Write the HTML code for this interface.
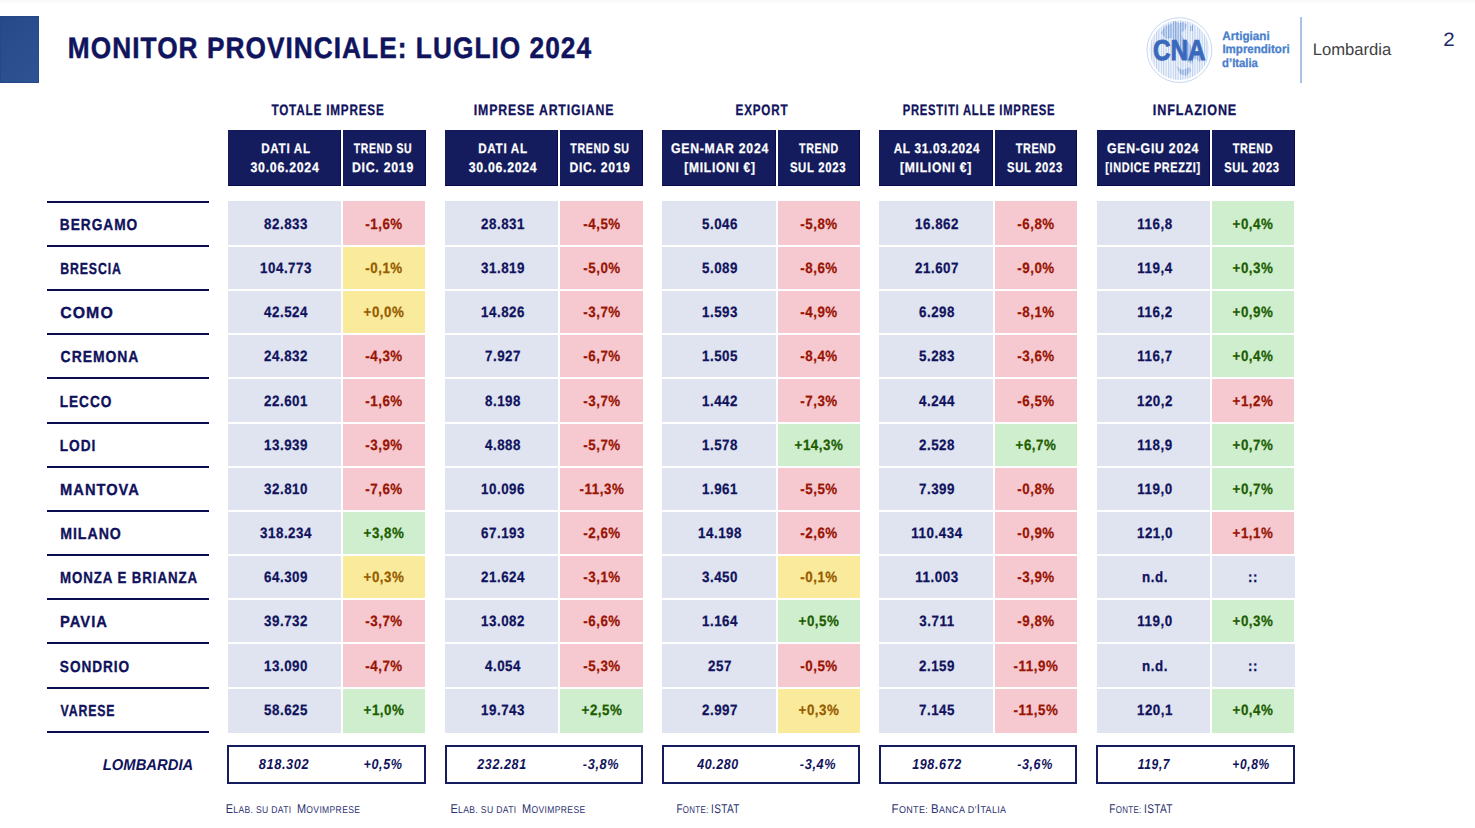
<!DOCTYPE html>
<html lang="it"><head><meta charset="utf-8"><title>Monitor provinciale: luglio 2024</title>
<style>
*{margin:0;padding:0;box-sizing:border-box}
html,body{width:1475px;height:828px;background:#fff;overflow:hidden}
body{position:relative;font-family:"Liberation Sans",sans-serif;color:#10125c;text-rendering:geometricPrecision}
.a{position:absolute}
.ft b{font-weight:normal;font-size:12.6px}
.x{position:absolute;white-space:nowrap;line-height:24px;transform-origin:50% 50%}
.hb{position:absolute;top:130px;height:56px;background:#141c5e;box-shadow:inset -1px -1px 0 #080a50}
.n{background:#dfe4f0}.r{background:#f6c8d0}.y{background:#faeb9c}.g{background:#cfeece}
.ln{position:absolute;left:47px;width:162px;height:2px;background:#0b0c50}
.tb{position:absolute;top:745px;height:38.5px;border:2px solid #141c5e}
.ti{font-size:29.6px;font-weight:bold;color:#10145e;letter-spacing:.04em;-webkit-text-stroke:.5px}
.gl{font-size:15.1px;font-weight:bold;letter-spacing:.07em;-webkit-text-stroke:.3px}
.hd{font-size:13.8px;font-weight:bold;color:#fff;letter-spacing:.06em;-webkit-text-stroke:.25px}
.pv{font-size:16.0px;font-weight:bold;letter-spacing:.07em;-webkit-text-stroke:.35px}
.nm{font-size:15.0px;font-weight:bold;letter-spacing:.04em;-webkit-text-stroke:.25px}
.tt{font-size:14.5px;font-weight:bold;font-style:italic;letter-spacing:.05em}
.lo{font-size:15.7px;font-weight:bold;font-style:italic}
.ft{font-size:9.9px;color:#2c3170;letter-spacing:.04em}
.lg{font-size:12.2px;font-weight:bold;color:#4a80cc;-webkit-text-stroke:.3px}
.lb{font-size:16.7px;color:#414141}
.pg{font-size:19.3px;color:#1f2a6b}
</style></head>
<body>
<div class="a" style="left:0;top:0;width:1475px;height:4px;background:linear-gradient(#f8f8f8,#fbfbfb 50%,#fff)"></div>
<div class="a" style="left:0;top:16px;width:39px;height:67px;background:linear-gradient(135deg,#27498a,#2e5392);box-shadow:inset 0 0 0 1px #244889"></div>
<svg class="a" style="left:1144px;top:14px" width="72" height="72" viewBox="0 0 72 72">
<defs><pattern id="st" width="2.4" height="72" patternUnits="userSpaceOnUse"><rect width="2.4" height="72" fill="#f3f7fd"/><rect width="1.05" height="72" fill="#bdd0ee"/></pattern>
<pattern id="sd" width="2.4" height="72" patternUnits="userSpaceOnUse"><rect width="2.4" height="72" fill="#dde7f7"/><rect width="1.2" height="72" fill="#7fa3dc"/></pattern>
<clipPath id="cc"><circle cx="35.4" cy="36.1" r="29.6"/></clipPath></defs>
<circle cx="35.4" cy="36.1" r="32.4" fill="#fff" stroke="#c6d7f1" stroke-width="1"/>
<circle cx="35.4" cy="36.1" r="29.8" fill="url(#st)"/>
<g clip-path="url(#cc)" fill="url(#sd)">
<path d="M17 19 L21 12 L27 10 L30 7 L35 9 L40 8 L43 11 L41 16 L37 19 L39 24 L44 28 L52 38 L58 44 L56 48 L50 44 L48 50 L44 48 L40 40 L32 30 L28 24 L22 25 Z"/>
<path d="M32 52 L38 56 L46 53 L47 57 L42 62 L36 60 Z"/>
<path d="M46 12 L49 11 L49 17 L46 17 Z"/>
</g>
<text x="35.2" y="45.8" text-anchor="middle" font-family="Liberation Sans, sans-serif" font-weight="bold" font-size="28.8" fill="#3a69bb" textLength="52.6" lengthAdjust="spacingAndGlyphs" stroke="#3a69bb" stroke-width=".9">CNA</text>
</svg>
<div class="a" style="left:1300px;top:17px;width:2px;height:66px;background:#a9c3e8"></div>
<div class="ln" style="top:201px"></div>
<div class="ln" style="top:245px"></div>
<div class="ln" style="top:289px"></div>
<div class="ln" style="top:333px"></div>
<div class="ln" style="top:377px"></div>
<div class="ln" style="top:422px"></div>
<div class="ln" style="top:466px"></div>
<div class="ln" style="top:510px"></div>
<div class="ln" style="top:554px"></div>
<div class="ln" style="top:598px"></div>
<div class="ln" style="top:642px"></div>
<div class="ln" style="top:687px"></div>
<div class="ln" style="top:731px"></div>
<div class="hb" style="left:228px;width:113px"></div><div class="hb" style="left:343px;width:83px"></div>
<div class="a n" style="left:228px;top:201px;width:113px;height:44px"></div><div class="a r" style="left:343px;top:201px;width:82px;height:44px"></div>
<div class="a n" style="left:228px;top:247px;width:113px;height:42px"></div><div class="a y" style="left:343px;top:247px;width:82px;height:42px"></div>
<div class="a n" style="left:228px;top:291px;width:113px;height:42px"></div><div class="a y" style="left:343px;top:291px;width:82px;height:42px"></div>
<div class="a n" style="left:228px;top:335px;width:113px;height:42px"></div><div class="a r" style="left:343px;top:335px;width:82px;height:42px"></div>
<div class="a n" style="left:228px;top:379px;width:113px;height:43px"></div><div class="a r" style="left:343px;top:379px;width:82px;height:43px"></div>
<div class="a n" style="left:228px;top:424px;width:113px;height:42px"></div><div class="a r" style="left:343px;top:424px;width:82px;height:42px"></div>
<div class="a n" style="left:228px;top:468px;width:113px;height:42px"></div><div class="a r" style="left:343px;top:468px;width:82px;height:42px"></div>
<div class="a n" style="left:228px;top:512px;width:113px;height:42px"></div><div class="a g" style="left:343px;top:512px;width:82px;height:42px"></div>
<div class="a n" style="left:228px;top:556px;width:113px;height:42px"></div><div class="a y" style="left:343px;top:556px;width:82px;height:42px"></div>
<div class="a n" style="left:228px;top:600px;width:113px;height:42px"></div><div class="a r" style="left:343px;top:600px;width:82px;height:42px"></div>
<div class="a n" style="left:228px;top:644px;width:113px;height:43px"></div><div class="a r" style="left:343px;top:644px;width:82px;height:43px"></div>
<div class="a n" style="left:228px;top:689px;width:113px;height:44px"></div><div class="a g" style="left:343px;top:689px;width:82px;height:44px"></div>
<div class="tb" style="left:227px;width:199px"></div>
<div class="hb" style="left:445px;width:113px"></div><div class="hb" style="left:560px;width:83px"></div>
<div class="a n" style="left:445px;top:201px;width:113px;height:44px"></div><div class="a r" style="left:560px;top:201px;width:83px;height:44px"></div>
<div class="a n" style="left:445px;top:247px;width:113px;height:42px"></div><div class="a r" style="left:560px;top:247px;width:83px;height:42px"></div>
<div class="a n" style="left:445px;top:291px;width:113px;height:42px"></div><div class="a r" style="left:560px;top:291px;width:83px;height:42px"></div>
<div class="a n" style="left:445px;top:335px;width:113px;height:42px"></div><div class="a r" style="left:560px;top:335px;width:83px;height:42px"></div>
<div class="a n" style="left:445px;top:379px;width:113px;height:43px"></div><div class="a r" style="left:560px;top:379px;width:83px;height:43px"></div>
<div class="a n" style="left:445px;top:424px;width:113px;height:42px"></div><div class="a r" style="left:560px;top:424px;width:83px;height:42px"></div>
<div class="a n" style="left:445px;top:468px;width:113px;height:42px"></div><div class="a r" style="left:560px;top:468px;width:83px;height:42px"></div>
<div class="a n" style="left:445px;top:512px;width:113px;height:42px"></div><div class="a r" style="left:560px;top:512px;width:83px;height:42px"></div>
<div class="a n" style="left:445px;top:556px;width:113px;height:42px"></div><div class="a r" style="left:560px;top:556px;width:83px;height:42px"></div>
<div class="a n" style="left:445px;top:600px;width:113px;height:42px"></div><div class="a r" style="left:560px;top:600px;width:83px;height:42px"></div>
<div class="a n" style="left:445px;top:644px;width:113px;height:43px"></div><div class="a r" style="left:560px;top:644px;width:83px;height:43px"></div>
<div class="a n" style="left:445px;top:689px;width:113px;height:44px"></div><div class="a g" style="left:560px;top:689px;width:83px;height:44px"></div>
<div class="tb" style="left:445px;width:198px"></div>
<div class="hb" style="left:662px;width:114px"></div><div class="hb" style="left:778px;width:82px"></div>
<div class="a n" style="left:662px;top:201px;width:114px;height:44px"></div><div class="a r" style="left:778px;top:201px;width:82px;height:44px"></div>
<div class="a n" style="left:662px;top:247px;width:114px;height:42px"></div><div class="a r" style="left:778px;top:247px;width:82px;height:42px"></div>
<div class="a n" style="left:662px;top:291px;width:114px;height:42px"></div><div class="a r" style="left:778px;top:291px;width:82px;height:42px"></div>
<div class="a n" style="left:662px;top:335px;width:114px;height:42px"></div><div class="a r" style="left:778px;top:335px;width:82px;height:42px"></div>
<div class="a n" style="left:662px;top:379px;width:114px;height:43px"></div><div class="a r" style="left:778px;top:379px;width:82px;height:43px"></div>
<div class="a n" style="left:662px;top:424px;width:114px;height:42px"></div><div class="a g" style="left:778px;top:424px;width:82px;height:42px"></div>
<div class="a n" style="left:662px;top:468px;width:114px;height:42px"></div><div class="a r" style="left:778px;top:468px;width:82px;height:42px"></div>
<div class="a n" style="left:662px;top:512px;width:114px;height:42px"></div><div class="a r" style="left:778px;top:512px;width:82px;height:42px"></div>
<div class="a n" style="left:662px;top:556px;width:114px;height:42px"></div><div class="a y" style="left:778px;top:556px;width:82px;height:42px"></div>
<div class="a n" style="left:662px;top:600px;width:114px;height:42px"></div><div class="a g" style="left:778px;top:600px;width:82px;height:42px"></div>
<div class="a n" style="left:662px;top:644px;width:114px;height:43px"></div><div class="a r" style="left:778px;top:644px;width:82px;height:43px"></div>
<div class="a n" style="left:662px;top:689px;width:114px;height:44px"></div><div class="a y" style="left:778px;top:689px;width:82px;height:44px"></div>
<div class="tb" style="left:662px;width:198px"></div>
<div class="hb" style="left:879px;width:114px"></div><div class="hb" style="left:995px;width:82px"></div>
<div class="a n" style="left:879px;top:201px;width:114px;height:44px"></div><div class="a r" style="left:995px;top:201px;width:82px;height:44px"></div>
<div class="a n" style="left:879px;top:247px;width:114px;height:42px"></div><div class="a r" style="left:995px;top:247px;width:82px;height:42px"></div>
<div class="a n" style="left:879px;top:291px;width:114px;height:42px"></div><div class="a r" style="left:995px;top:291px;width:82px;height:42px"></div>
<div class="a n" style="left:879px;top:335px;width:114px;height:42px"></div><div class="a r" style="left:995px;top:335px;width:82px;height:42px"></div>
<div class="a n" style="left:879px;top:379px;width:114px;height:43px"></div><div class="a r" style="left:995px;top:379px;width:82px;height:43px"></div>
<div class="a n" style="left:879px;top:424px;width:114px;height:42px"></div><div class="a g" style="left:995px;top:424px;width:82px;height:42px"></div>
<div class="a n" style="left:879px;top:468px;width:114px;height:42px"></div><div class="a r" style="left:995px;top:468px;width:82px;height:42px"></div>
<div class="a n" style="left:879px;top:512px;width:114px;height:42px"></div><div class="a r" style="left:995px;top:512px;width:82px;height:42px"></div>
<div class="a n" style="left:879px;top:556px;width:114px;height:42px"></div><div class="a r" style="left:995px;top:556px;width:82px;height:42px"></div>
<div class="a n" style="left:879px;top:600px;width:114px;height:42px"></div><div class="a r" style="left:995px;top:600px;width:82px;height:42px"></div>
<div class="a n" style="left:879px;top:644px;width:114px;height:43px"></div><div class="a r" style="left:995px;top:644px;width:82px;height:43px"></div>
<div class="a n" style="left:879px;top:689px;width:114px;height:44px"></div><div class="a r" style="left:995px;top:689px;width:82px;height:44px"></div>
<div class="tb" style="left:879px;width:198px"></div>
<div class="hb" style="left:1097px;width:113px"></div><div class="hb" style="left:1212px;width:83px"></div>
<div class="a n" style="left:1097px;top:201px;width:113px;height:44px"></div><div class="a g" style="left:1212px;top:201px;width:82px;height:44px"></div>
<div class="a n" style="left:1097px;top:247px;width:113px;height:42px"></div><div class="a g" style="left:1212px;top:247px;width:82px;height:42px"></div>
<div class="a n" style="left:1097px;top:291px;width:113px;height:42px"></div><div class="a g" style="left:1212px;top:291px;width:82px;height:42px"></div>
<div class="a n" style="left:1097px;top:335px;width:113px;height:42px"></div><div class="a g" style="left:1212px;top:335px;width:82px;height:42px"></div>
<div class="a n" style="left:1097px;top:379px;width:113px;height:43px"></div><div class="a r" style="left:1212px;top:379px;width:82px;height:43px"></div>
<div class="a n" style="left:1097px;top:424px;width:113px;height:42px"></div><div class="a g" style="left:1212px;top:424px;width:82px;height:42px"></div>
<div class="a n" style="left:1097px;top:468px;width:113px;height:42px"></div><div class="a g" style="left:1212px;top:468px;width:82px;height:42px"></div>
<div class="a n" style="left:1097px;top:512px;width:113px;height:42px"></div><div class="a r" style="left:1212px;top:512px;width:82px;height:42px"></div>
<div class="a n" style="left:1097px;top:556px;width:113px;height:42px"></div><div class="a n" style="left:1212px;top:556px;width:83px;height:42px"></div>
<div class="a n" style="left:1097px;top:600px;width:113px;height:42px"></div><div class="a g" style="left:1212px;top:600px;width:82px;height:42px"></div>
<div class="a n" style="left:1097px;top:644px;width:113px;height:43px"></div><div class="a n" style="left:1212px;top:644px;width:83px;height:43px"></div>
<div class="a n" style="left:1097px;top:689px;width:113px;height:44px"></div><div class="a g" style="left:1212px;top:689px;width:82px;height:44px"></div>
<div class="tb" style="left:1096px;width:199px"></div>
<span id="title" class="x ti" style="left:329.51px;top:37px;transform:translateX(-50%) scaleX(0.8864)">MONITOR PROVINCIALE: LUGLIO 2024</span>
<span id="pv0" class="x pv" style="left:98.86px;top:214px;transform:translateX(-50%) scaleX(0.8562)">BERGAMO</span>
<span id="pv1" class="x pv" style="left:90.97px;top:258px;transform:translateX(-50%) scaleX(0.7679)">BRESCIA</span>
<span id="pv2" class="x pv" style="left:86.69px;top:302px;transform:translateX(-50%) scaleX(0.9904)">COMO</span>
<span id="pv3" class="x pv" style="left:100.08px;top:346px;transform:translateX(-50%) scaleX(0.8708)">CREMONA</span>
<span id="pv4" class="x pv" style="left:85.96px;top:391px;transform:translateX(-50%) scaleX(0.8525)">LECCO</span>
<span id="pv5" class="x pv" style="left:78.29px;top:435px;transform:translateX(-50%) scaleX(0.8550)">LODI</span>
<span id="pv6" class="x pv" style="left:99.50px;top:479px;transform:translateX(-50%) scaleX(0.9153)">MANTOVA</span>
<span id="pv7" class="x pv" style="left:90.81px;top:523px;transform:translateX(-50%) scaleX(0.8836)">MILANO</span>
<span id="pv8" class="x pv" style="left:129.18px;top:567px;transform:translateX(-50%) scaleX(0.8299)">MONZA E BRIANZA</span>
<span id="pv9" class="x pv" style="left:84.24px;top:611px;transform:translateX(-50%) scaleX(0.9220)">PAVIA</span>
<span id="pv10" class="x pv" style="left:95.29px;top:656px;transform:translateX(-50%) scaleX(0.8525)">SONDRIO</span>
<span id="pv11" class="x pv" style="left:87.88px;top:700px;transform:translateX(-50%) scaleX(0.7686)">VARESE</span>
<span id="lomb" class="x lo" style="left:148.35px;top:754px;transform:translateX(-50%) scaleX(0.9426)">LOMBARDIA</span>
<span id="gl0" class="x gl" style="left:327.86px;top:99px;transform:translateX(-50%) scaleX(0.7757)">TOTALE IMPRESE</span>
<span id="h0a" class="x hd" style="left:285.77px;top:137px;transform:translateX(-50%) scaleX(0.8439)">DATI AL</span>
<span id="h0b" class="x hd" style="left:285.37px;top:156px;transform:translateX(-50%) scaleX(0.8921)">30.06.2024</span>
<span id="h0c" class="x hd" style="left:382.84px;top:137px;transform:translateX(-50%) scaleX(0.7566)">TREND SU</span>
<span id="h0d" class="x hd" style="left:382.68px;top:156px;transform:translateX(-50%) scaleX(0.8925)">DIC. 2019</span>
<span id="n0_0a" class="x nm" style="left:285.50px;top:213px;transform:translateX(-50%) scaleX(0.8900)">82.833</span>
<span id="n0_0b" class="x nm" style="left:384.00px;top:213px;transform:translateX(-50%) scaleX(0.8900);color:#991402">-1,6%</span>
<span id="n0_1a" class="x nm" style="left:285.50px;top:257px;transform:translateX(-50%) scaleX(0.8900)">104.773</span>
<span id="n0_1b" class="x nm" style="left:384.00px;top:257px;transform:translateX(-50%) scaleX(0.8900);color:#975c00">-0,1%</span>
<span id="n0_2a" class="x nm" style="left:285.50px;top:301px;transform:translateX(-50%) scaleX(0.8900)">42.524</span>
<span id="n0_2b" class="x nm" style="left:384.00px;top:301px;transform:translateX(-50%) scaleX(0.8900);color:#975c00">+0,0%</span>
<span id="n0_3a" class="x nm" style="left:285.50px;top:345px;transform:translateX(-50%) scaleX(0.8900)">24.832</span>
<span id="n0_3b" class="x nm" style="left:384.00px;top:345px;transform:translateX(-50%) scaleX(0.8900);color:#991402">-4,3%</span>
<span id="n0_4a" class="x nm" style="left:285.50px;top:390px;transform:translateX(-50%) scaleX(0.8900)">22.601</span>
<span id="n0_4b" class="x nm" style="left:384.00px;top:390px;transform:translateX(-50%) scaleX(0.8900);color:#991402">-1,6%</span>
<span id="n0_5a" class="x nm" style="left:285.50px;top:434px;transform:translateX(-50%) scaleX(0.8900)">13.939</span>
<span id="n0_5b" class="x nm" style="left:384.00px;top:434px;transform:translateX(-50%) scaleX(0.8900);color:#991402">-3,9%</span>
<span id="n0_6a" class="x nm" style="left:285.50px;top:478px;transform:translateX(-50%) scaleX(0.8900)">32.810</span>
<span id="n0_6b" class="x nm" style="left:384.00px;top:478px;transform:translateX(-50%) scaleX(0.8900);color:#991402">-7,6%</span>
<span id="n0_7a" class="x nm" style="left:285.50px;top:522px;transform:translateX(-50%) scaleX(0.8900)">318.234</span>
<span id="n0_7b" class="x nm" style="left:384.00px;top:522px;transform:translateX(-50%) scaleX(0.8900);color:#205d00">+3,8%</span>
<span id="n0_8a" class="x nm" style="left:285.50px;top:566px;transform:translateX(-50%) scaleX(0.8900)">64.309</span>
<span id="n0_8b" class="x nm" style="left:384.00px;top:566px;transform:translateX(-50%) scaleX(0.8900);color:#975c00">+0,3%</span>
<span id="n0_9a" class="x nm" style="left:285.50px;top:610px;transform:translateX(-50%) scaleX(0.8900)">39.732</span>
<span id="n0_9b" class="x nm" style="left:384.00px;top:610px;transform:translateX(-50%) scaleX(0.8900);color:#991402">-3,7%</span>
<span id="n0_10a" class="x nm" style="left:285.50px;top:655px;transform:translateX(-50%) scaleX(0.8900)">13.090</span>
<span id="n0_10b" class="x nm" style="left:384.00px;top:655px;transform:translateX(-50%) scaleX(0.8900);color:#991402">-4,7%</span>
<span id="n0_11a" class="x nm" style="left:285.50px;top:699px;transform:translateX(-50%) scaleX(0.8900)">58.625</span>
<span id="n0_11b" class="x nm" style="left:384.00px;top:699px;transform:translateX(-50%) scaleX(0.8900);color:#205d00">+1,0%</span>
<span id="t0a" class="x tt" style="left:284.47px;top:753px;transform:translateX(-50%) scaleX(0.8804)">818.302</span>
<span id="t0b" class="x tt" style="left:382.59px;top:753px;transform:translateX(-50%) scaleX(0.8674)">+0,5%</span>
<span id="f0" class="x ft" style="left:293.40px;top:797px;transform:translateX(-50%) scaleX(0.8660)"><b>E</b>LAB. SU DATI&nbsp; <b>M</b>OVIMPRESE</span>
<span id="gl1" class="x gl" style="left:544.45px;top:99px;transform:translateX(-50%) scaleX(0.8135)">IMPRESE ARTIGIANE</span>
<span id="h1a" class="x hd" style="left:502.77px;top:137px;transform:translateX(-50%) scaleX(0.8439)">DATI AL</span>
<span id="h1b" class="x hd" style="left:502.66px;top:156px;transform:translateX(-50%) scaleX(0.8882)">30.06.2024</span>
<span id="h1c" class="x hd" style="left:599.91px;top:137px;transform:translateX(-50%) scaleX(0.7680)">TREND SU</span>
<span id="h1d" class="x hd" style="left:599.80px;top:156px;transform:translateX(-50%) scaleX(0.8794)">DIC. 2019</span>
<span id="n1_0a" class="x nm" style="left:502.50px;top:213px;transform:translateX(-50%) scaleX(0.8900)">28.831</span>
<span id="n1_0b" class="x nm" style="left:601.50px;top:213px;transform:translateX(-50%) scaleX(0.8900);color:#991402">-4,5%</span>
<span id="n1_1a" class="x nm" style="left:502.50px;top:257px;transform:translateX(-50%) scaleX(0.8900)">31.819</span>
<span id="n1_1b" class="x nm" style="left:601.50px;top:257px;transform:translateX(-50%) scaleX(0.8900);color:#991402">-5,0%</span>
<span id="n1_2a" class="x nm" style="left:502.50px;top:301px;transform:translateX(-50%) scaleX(0.8900)">14.826</span>
<span id="n1_2b" class="x nm" style="left:601.50px;top:301px;transform:translateX(-50%) scaleX(0.8900);color:#991402">-3,7%</span>
<span id="n1_3a" class="x nm" style="left:502.50px;top:345px;transform:translateX(-50%) scaleX(0.8900)">7.927</span>
<span id="n1_3b" class="x nm" style="left:601.50px;top:345px;transform:translateX(-50%) scaleX(0.8900);color:#991402">-6,7%</span>
<span id="n1_4a" class="x nm" style="left:502.50px;top:390px;transform:translateX(-50%) scaleX(0.8900)">8.198</span>
<span id="n1_4b" class="x nm" style="left:601.50px;top:390px;transform:translateX(-50%) scaleX(0.8900);color:#991402">-3,7%</span>
<span id="n1_5a" class="x nm" style="left:502.50px;top:434px;transform:translateX(-50%) scaleX(0.8900)">4.888</span>
<span id="n1_5b" class="x nm" style="left:601.50px;top:434px;transform:translateX(-50%) scaleX(0.8900);color:#991402">-5,7%</span>
<span id="n1_6a" class="x nm" style="left:502.50px;top:478px;transform:translateX(-50%) scaleX(0.8900)">10.096</span>
<span id="n1_6b" class="x nm" style="left:601.50px;top:478px;transform:translateX(-50%) scaleX(0.8900);color:#991402">-11,3%</span>
<span id="n1_7a" class="x nm" style="left:502.50px;top:522px;transform:translateX(-50%) scaleX(0.8900)">67.193</span>
<span id="n1_7b" class="x nm" style="left:601.50px;top:522px;transform:translateX(-50%) scaleX(0.8900);color:#991402">-2,6%</span>
<span id="n1_8a" class="x nm" style="left:502.50px;top:566px;transform:translateX(-50%) scaleX(0.8900)">21.624</span>
<span id="n1_8b" class="x nm" style="left:601.50px;top:566px;transform:translateX(-50%) scaleX(0.8900);color:#991402">-3,1%</span>
<span id="n1_9a" class="x nm" style="left:502.50px;top:610px;transform:translateX(-50%) scaleX(0.8900)">13.082</span>
<span id="n1_9b" class="x nm" style="left:601.50px;top:610px;transform:translateX(-50%) scaleX(0.8900);color:#991402">-6,6%</span>
<span id="n1_10a" class="x nm" style="left:502.50px;top:655px;transform:translateX(-50%) scaleX(0.8900)">4.054</span>
<span id="n1_10b" class="x nm" style="left:601.50px;top:655px;transform:translateX(-50%) scaleX(0.8900);color:#991402">-5,3%</span>
<span id="n1_11a" class="x nm" style="left:502.50px;top:699px;transform:translateX(-50%) scaleX(0.8900)">19.743</span>
<span id="n1_11b" class="x nm" style="left:601.50px;top:699px;transform:translateX(-50%) scaleX(0.8900);color:#205d00">+2,5%</span>
<span id="t1a" class="x tt" style="left:501.95px;top:753px;transform:translateX(-50%) scaleX(0.8589)">232.281</span>
<span id="t1b" class="x tt" style="left:600.50px;top:753px;transform:translateX(-50%) scaleX(0.8750)">-3,8%</span>
<span id="f1" class="x ft" style="left:517.93px;top:797px;transform:translateX(-50%) scaleX(0.8693)"><b>E</b>LAB. SU DATI&nbsp; <b>M</b>OVIMPRESE</span>
<span id="gl2" class="x gl" style="left:761.67px;top:99px;transform:translateX(-50%) scaleX(0.7731)">EXPORT</span>
<span id="h2a" class="x hd" style="left:720.06px;top:137px;transform:translateX(-50%) scaleX(0.8881)">GEN-MAR 2024</span>
<span id="h2b" class="x hd" style="left:719.90px;top:156px;transform:translateX(-50%) scaleX(0.8712)">[MILIONI €]</span>
<span id="h2c" class="x hd" style="left:819.00px;top:137px;transform:translateX(-50%) scaleX(0.7706)">TREND</span>
<span id="h2d" class="x hd" style="left:817.68px;top:156px;transform:translateX(-50%) scaleX(0.8209)">SUL 2023</span>
<span id="n2_0a" class="x nm" style="left:720.00px;top:213px;transform:translateX(-50%) scaleX(0.8900)">5.046</span>
<span id="n2_0b" class="x nm" style="left:819.00px;top:213px;transform:translateX(-50%) scaleX(0.8900);color:#991402">-5,8%</span>
<span id="n2_1a" class="x nm" style="left:720.00px;top:257px;transform:translateX(-50%) scaleX(0.8900)">5.089</span>
<span id="n2_1b" class="x nm" style="left:819.00px;top:257px;transform:translateX(-50%) scaleX(0.8900);color:#991402">-8,6%</span>
<span id="n2_2a" class="x nm" style="left:720.00px;top:301px;transform:translateX(-50%) scaleX(0.8900)">1.593</span>
<span id="n2_2b" class="x nm" style="left:819.00px;top:301px;transform:translateX(-50%) scaleX(0.8900);color:#991402">-4,9%</span>
<span id="n2_3a" class="x nm" style="left:720.00px;top:345px;transform:translateX(-50%) scaleX(0.8900)">1.505</span>
<span id="n2_3b" class="x nm" style="left:819.00px;top:345px;transform:translateX(-50%) scaleX(0.8900);color:#991402">-8,4%</span>
<span id="n2_4a" class="x nm" style="left:720.00px;top:390px;transform:translateX(-50%) scaleX(0.8900)">1.442</span>
<span id="n2_4b" class="x nm" style="left:819.00px;top:390px;transform:translateX(-50%) scaleX(0.8900);color:#991402">-7,3%</span>
<span id="n2_5a" class="x nm" style="left:720.00px;top:434px;transform:translateX(-50%) scaleX(0.8900)">1.578</span>
<span id="n2_5b" class="x nm" style="left:819.00px;top:434px;transform:translateX(-50%) scaleX(0.8900);color:#205d00">+14,3%</span>
<span id="n2_6a" class="x nm" style="left:720.00px;top:478px;transform:translateX(-50%) scaleX(0.8900)">1.961</span>
<span id="n2_6b" class="x nm" style="left:819.00px;top:478px;transform:translateX(-50%) scaleX(0.8900);color:#991402">-5,5%</span>
<span id="n2_7a" class="x nm" style="left:720.00px;top:522px;transform:translateX(-50%) scaleX(0.8900)">14.198</span>
<span id="n2_7b" class="x nm" style="left:819.00px;top:522px;transform:translateX(-50%) scaleX(0.8900);color:#991402">-2,6%</span>
<span id="n2_8a" class="x nm" style="left:720.00px;top:566px;transform:translateX(-50%) scaleX(0.8900)">3.450</span>
<span id="n2_8b" class="x nm" style="left:819.00px;top:566px;transform:translateX(-50%) scaleX(0.8900);color:#975c00">-0,1%</span>
<span id="n2_9a" class="x nm" style="left:720.00px;top:610px;transform:translateX(-50%) scaleX(0.8900)">1.164</span>
<span id="n2_9b" class="x nm" style="left:819.00px;top:610px;transform:translateX(-50%) scaleX(0.8900);color:#205d00">+0,5%</span>
<span id="n2_10a" class="x nm" style="left:720.00px;top:655px;transform:translateX(-50%) scaleX(0.8900)">257</span>
<span id="n2_10b" class="x nm" style="left:819.00px;top:655px;transform:translateX(-50%) scaleX(0.8900);color:#991402">-0,5%</span>
<span id="n2_11a" class="x nm" style="left:720.00px;top:699px;transform:translateX(-50%) scaleX(0.8900)">2.997</span>
<span id="n2_11b" class="x nm" style="left:819.00px;top:699px;transform:translateX(-50%) scaleX(0.8900);color:#975c00">+0,3%</span>
<span id="t2a" class="x tt" style="left:718.46px;top:753px;transform:translateX(-50%) scaleX(0.8562)">40.280</span>
<span id="t2b" class="x tt" style="left:817.56px;top:753px;transform:translateX(-50%) scaleX(0.8750)">-3,4%</span>
<span id="f2" class="x ft" style="left:707.59px;top:797px;transform:translateX(-50%) scaleX(0.7987)"><b>F</b>ONTE: <b>ISTAT</b></span>
<span id="gl3" class="x gl" style="left:979.02px;top:99px;transform:translateX(-50%) scaleX(0.7438)">PRESTITI ALLE IMPRESE</span>
<span id="h3a" class="x hd" style="left:936.50px;top:137px;transform:translateX(-50%) scaleX(0.8515)">AL 31.03.2024</span>
<span id="h3b" class="x hd" style="left:936.09px;top:156px;transform:translateX(-50%) scaleX(0.8788)">[MILIONI €]</span>
<span id="h3c" class="x hd" style="left:1035.65px;top:137px;transform:translateX(-50%) scaleX(0.7863)">TREND</span>
<span id="h3d" class="x hd" style="left:1034.85px;top:156px;transform:translateX(-50%) scaleX(0.8149)">SUL 2023</span>
<span id="n3_0a" class="x nm" style="left:937.00px;top:213px;transform:translateX(-50%) scaleX(0.8900)">16.862</span>
<span id="n3_0b" class="x nm" style="left:1036.00px;top:213px;transform:translateX(-50%) scaleX(0.8900);color:#991402">-6,8%</span>
<span id="n3_1a" class="x nm" style="left:937.00px;top:257px;transform:translateX(-50%) scaleX(0.8900)">21.607</span>
<span id="n3_1b" class="x nm" style="left:1036.00px;top:257px;transform:translateX(-50%) scaleX(0.8900);color:#991402">-9,0%</span>
<span id="n3_2a" class="x nm" style="left:937.00px;top:301px;transform:translateX(-50%) scaleX(0.8900)">6.298</span>
<span id="n3_2b" class="x nm" style="left:1036.00px;top:301px;transform:translateX(-50%) scaleX(0.8900);color:#991402">-8,1%</span>
<span id="n3_3a" class="x nm" style="left:937.00px;top:345px;transform:translateX(-50%) scaleX(0.8900)">5.283</span>
<span id="n3_3b" class="x nm" style="left:1036.00px;top:345px;transform:translateX(-50%) scaleX(0.8900);color:#991402">-3,6%</span>
<span id="n3_4a" class="x nm" style="left:937.00px;top:390px;transform:translateX(-50%) scaleX(0.8900)">4.244</span>
<span id="n3_4b" class="x nm" style="left:1036.00px;top:390px;transform:translateX(-50%) scaleX(0.8900);color:#991402">-6,5%</span>
<span id="n3_5a" class="x nm" style="left:937.00px;top:434px;transform:translateX(-50%) scaleX(0.8900)">2.528</span>
<span id="n3_5b" class="x nm" style="left:1036.00px;top:434px;transform:translateX(-50%) scaleX(0.8900);color:#205d00">+6,7%</span>
<span id="n3_6a" class="x nm" style="left:937.00px;top:478px;transform:translateX(-50%) scaleX(0.8900)">7.399</span>
<span id="n3_6b" class="x nm" style="left:1036.00px;top:478px;transform:translateX(-50%) scaleX(0.8900);color:#991402">-0,8%</span>
<span id="n3_7a" class="x nm" style="left:937.00px;top:522px;transform:translateX(-50%) scaleX(0.8900)">110.434</span>
<span id="n3_7b" class="x nm" style="left:1036.00px;top:522px;transform:translateX(-50%) scaleX(0.8900);color:#991402">-0,9%</span>
<span id="n3_8a" class="x nm" style="left:937.00px;top:566px;transform:translateX(-50%) scaleX(0.8900)">11.003</span>
<span id="n3_8b" class="x nm" style="left:1036.00px;top:566px;transform:translateX(-50%) scaleX(0.8900);color:#991402">-3,9%</span>
<span id="n3_9a" class="x nm" style="left:937.00px;top:610px;transform:translateX(-50%) scaleX(0.8900)">3.711</span>
<span id="n3_9b" class="x nm" style="left:1036.00px;top:610px;transform:translateX(-50%) scaleX(0.8900);color:#991402">-9,8%</span>
<span id="n3_10a" class="x nm" style="left:937.00px;top:655px;transform:translateX(-50%) scaleX(0.8900)">2.159</span>
<span id="n3_10b" class="x nm" style="left:1036.00px;top:655px;transform:translateX(-50%) scaleX(0.8900);color:#991402">-11,9%</span>
<span id="n3_11a" class="x nm" style="left:937.00px;top:699px;transform:translateX(-50%) scaleX(0.8900)">7.145</span>
<span id="n3_11b" class="x nm" style="left:1036.00px;top:699px;transform:translateX(-50%) scaleX(0.8900);color:#991402">-11,5%</span>
<span id="t3a" class="x tt" style="left:936.93px;top:753px;transform:translateX(-50%) scaleX(0.8643)">198.672</span>
<span id="t3b" class="x tt" style="left:1034.74px;top:753px;transform:translateX(-50%) scaleX(0.8600)">-3,6%</span>
<span id="f3" class="x ft" style="left:949.42px;top:797px;transform:translateX(-50%) scaleX(0.9081)"><b>F</b>ONTE: <b>B</b>ANCA D’<b>I</b>TALIA</span>
<span id="gl4" class="x gl" style="left:1195.46px;top:99px;transform:translateX(-50%) scaleX(0.8337)">INFLAZIONE</span>
<span id="h4a" class="x hd" style="left:1153.28px;top:137px;transform:translateX(-50%) scaleX(0.8912)">GEN-GIU 2024</span>
<span id="h4b" class="x hd" style="left:1153.35px;top:156px;transform:translateX(-50%) scaleX(0.7883)">[INDICE PREZZI]</span>
<span id="h4c" class="x hd" style="left:1252.93px;top:137px;transform:translateX(-50%) scaleX(0.7882)">TREND</span>
<span id="h4d" class="x hd" style="left:1252.49px;top:156px;transform:translateX(-50%) scaleX(0.8104)">SUL 2023</span>
<span id="n4_0a" class="x nm" style="left:1154.50px;top:213px;transform:translateX(-50%) scaleX(0.8900)">116,8</span>
<span id="n4_0b" class="x nm" style="left:1253.00px;top:213px;transform:translateX(-50%) scaleX(0.8900);color:#205d00">+0,4%</span>
<span id="n4_1a" class="x nm" style="left:1154.50px;top:257px;transform:translateX(-50%) scaleX(0.8900)">119,4</span>
<span id="n4_1b" class="x nm" style="left:1253.00px;top:257px;transform:translateX(-50%) scaleX(0.8900);color:#205d00">+0,3%</span>
<span id="n4_2a" class="x nm" style="left:1154.50px;top:301px;transform:translateX(-50%) scaleX(0.8900)">116,2</span>
<span id="n4_2b" class="x nm" style="left:1253.00px;top:301px;transform:translateX(-50%) scaleX(0.8900);color:#205d00">+0,9%</span>
<span id="n4_3a" class="x nm" style="left:1154.50px;top:345px;transform:translateX(-50%) scaleX(0.8900)">116,7</span>
<span id="n4_3b" class="x nm" style="left:1253.00px;top:345px;transform:translateX(-50%) scaleX(0.8900);color:#205d00">+0,4%</span>
<span id="n4_4a" class="x nm" style="left:1154.50px;top:390px;transform:translateX(-50%) scaleX(0.8900)">120,2</span>
<span id="n4_4b" class="x nm" style="left:1253.00px;top:390px;transform:translateX(-50%) scaleX(0.8900);color:#991402">+1,2%</span>
<span id="n4_5a" class="x nm" style="left:1154.50px;top:434px;transform:translateX(-50%) scaleX(0.8900)">118,9</span>
<span id="n4_5b" class="x nm" style="left:1253.00px;top:434px;transform:translateX(-50%) scaleX(0.8900);color:#205d00">+0,7%</span>
<span id="n4_6a" class="x nm" style="left:1154.50px;top:478px;transform:translateX(-50%) scaleX(0.8900)">119,0</span>
<span id="n4_6b" class="x nm" style="left:1253.00px;top:478px;transform:translateX(-50%) scaleX(0.8900);color:#205d00">+0,7%</span>
<span id="n4_7a" class="x nm" style="left:1154.50px;top:522px;transform:translateX(-50%) scaleX(0.8900)">121,0</span>
<span id="n4_7b" class="x nm" style="left:1253.00px;top:522px;transform:translateX(-50%) scaleX(0.8900);color:#991402">+1,1%</span>
<span id="n4_8a" class="x nm" style="left:1154.50px;top:566px;transform:translateX(-50%) scaleX(0.8900)">n.d.</span>
<span id="n4_8b" class="x nm" style="left:1253.00px;top:566px;transform:translateX(-50%) scaleX(0.8900);color:#10125c">::</span>
<span id="n4_9a" class="x nm" style="left:1154.50px;top:610px;transform:translateX(-50%) scaleX(0.8900)">119,0</span>
<span id="n4_9b" class="x nm" style="left:1253.00px;top:610px;transform:translateX(-50%) scaleX(0.8900);color:#205d00">+0,3%</span>
<span id="n4_10a" class="x nm" style="left:1154.50px;top:655px;transform:translateX(-50%) scaleX(0.8900)">n.d.</span>
<span id="n4_10b" class="x nm" style="left:1253.00px;top:655px;transform:translateX(-50%) scaleX(0.8900);color:#10125c">::</span>
<span id="n4_11a" class="x nm" style="left:1154.50px;top:699px;transform:translateX(-50%) scaleX(0.8900)">120,1</span>
<span id="n4_11b" class="x nm" style="left:1253.00px;top:699px;transform:translateX(-50%) scaleX(0.8900);color:#205d00">+0,4%</span>
<span id="t4a" class="x tt" style="left:1153.50px;top:753px;transform:translateX(-50%) scaleX(0.8308)">119,7</span>
<span id="t4b" class="x tt" style="left:1251.36px;top:753px;transform:translateX(-50%) scaleX(0.8273)">+0,8%</span>
<span id="f4" class="x ft" style="left:1141.04px;top:797px;transform:translateX(-50%) scaleX(0.8026)"><b>F</b>ONTE: <b>ISTAT</b></span>
<span id="lg0" class="x lg" style="left:1245.95px;top:24px;transform:translateX(-50%) scaleX(0.9563)">Artigiani</span>
<span id="lg1" class="x lg" style="left:1255.69px;top:37px;transform:translateX(-50%) scaleX(0.9449)">Imprenditori</span>
<span id="lg2" class="x lg" style="left:1240.22px;top:51px;transform:translateX(-50%) scaleX(0.9263)">d’Italia</span>
<span id="lb" class="x lb" style="left:1351.50px;top:38px;transform:translateX(-50%) scaleX(0.9974)">Lombardia</span>
<span id="pg" class="x pg" style="left:1448.70px;top:29px;transform:translateX(-50%) scaleX(1.0667)">2</span>
</body></html>
